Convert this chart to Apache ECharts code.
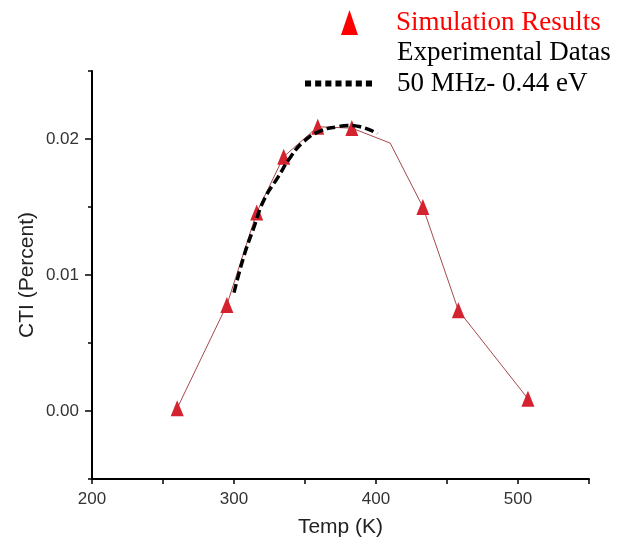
<!DOCTYPE html>
<html>
<head>
<meta charset="utf-8">
<script src="https://cdn.jsdelivr.net/npm/echarts@6/dist/echarts.min.js"></script>
<style>
html,body{margin:0;padding:0;background:#fff;}
#chart{width:617px;height:543px;}
</style>
</head>
<body>
<div id="chart"></div>
<script>
// Simulation results (red triangles, thin connecting line)
const simTemp = [260, 295, 316, 335, 359, 383, 410, 433, 458, 507];
const simCTI = [0.0002, 0.0078, 0.0146, 0.0187, 0.0209, 0.0208, 0.0197, 0.0150, 0.0074, 0.0009];
const simMarker = [true, true, true, true, true, true, false, true, true, true];
// Experimental / 50 MHz - 0.44 eV curve (dashed)
const expTemp = [300, 307, 314, 321, 331, 340, 349, 361, 373, 380, 389, 401];
const expCTI = [0.0087, 0.0114, 0.0135, 0.0155, 0.0172, 0.0187, 0.0198, 0.0206, 0.0209, 0.0210, 0.0209, 0.0204];
// Axis ticks
const xTickLabels = [200, 300, 400, 500];
const yTickLabels = [0.00, 0.01, 0.02];

const simData = simTemp.map((t, i) => simMarker[i] ? [t, simCTI[i]] : {value: [t, simCTI[i]], symbol: 'none'});
const expData = expTemp.map((t, i) => [t, expCTI[i]]);

const chart = echarts.init(document.getElementById('chart'), null, {renderer: 'canvas'});
const sans = 'Liberation Sans, Arial, sans-serif';
const serif = 'Liberation Serif, Times New Roman, serif';
const dashIcon = 'path://M0,0h6v6h-6zM10,0h6v6h-6zM20,0h6v6h-6zM30,0h6v6h-6zM40,0h6v6h-6zM50,0h6v6h-6zM60,0h6v6h-6z';

chart.setOption({
  animation: false,
  backgroundColor: '#fff',
  grid: {left: 92, right: 28, top: 71, bottom: 64, containLabel: false},
  legend: [
    {
      data: [{name: 'Simulation Results', icon: 'triangle', itemStyle: {color: '#ff0000'}}],
      left: 341, top: 9, padding: 0, itemWidth: 17, itemHeight: 25,
      selectedMode: false,
      textStyle: {color: '#ff0000', fontFamily: serif, fontSize: 27, padding: [0, 0, 0, 33]}
    },
    {
      data: [{name: 'Experimental Datas', icon: 'none'}],
      left: 392, top: 39, padding: 0, itemWidth: 0, itemHeight: 25,
      selectedMode: false,
      textStyle: {color: '#000', fontFamily: serif, fontSize: 27}
    },
    {
      data: [{name: '50 MHz- 0.44 eV', icon: dashIcon, itemStyle: {color: '#000', borderWidth: 0}}],
      left: 305, top: 70, padding: 0, itemWidth: 67, itemHeight: 25,
      selectedMode: false,
      textStyle: {color: '#000', fontFamily: serif, fontSize: 27, padding: [0, 0, 0, 20]}
    }
  ],
  xAxis: {
    type: 'value', min: 200, max: 550, interval: 50,
    name: 'Temp (K)', nameLocation: 'middle', nameGap: 38, nameMoveOverlap: false,
    nameTextStyle: {fontFamily: sans, fontSize: 21, color: '#222'},
    axisLine: {show: true, onZero: false, lineStyle: {color: '#000', width: 2}},
    axisTick: {show: true, length: 5, lineStyle: {color: '#000', width: 1.5}},
    axisLabel: {
      margin: 12, fontFamily: sans, fontSize: 17, color: '#333',
      formatter: v => xTickLabels.includes(v) ? String(v) : ''
    },
    splitLine: {show: false}
  },
  yAxis: [
    {
      type: 'value', min: -0.005, max: 0.025, interval: 0.005,
      name: 'CTI (Percent)', nameLocation: 'middle', nameGap: 54, nameRotate: 90, nameMoveOverlap: false,
      nameTextStyle: {fontFamily: sans, fontSize: 21, color: '#222'},
      axisLine: {show: true, onZero: false, lineStyle: {color: '#000', width: 2}},
      axisTick: {show: true, length: 4, lineStyle: {color: '#000', width: 1.5}},
      axisLabel: {
        margin: 13, fontFamily: sans, fontSize: 17, color: '#333',
        formatter: v => {
          const m = yTickLabels.find(t => Math.abs(t - v) < 1e-9);
          return m === undefined ? '' : m.toFixed(2);
        }
      },
      splitLine: {show: false}
    },
    {
      type: 'value', min: -0.005, max: 0.025, position: 'left',
      axisLine: {show: false},
      axisTick: {show: true, length: 7, customValues: yTickLabels, lineStyle: {color: '#000', width: 1.5}},
      axisLabel: {show: false},
      splitLine: {show: false}
    }
  ],
  series: [
    {
      name: 'Simulation Results', type: 'line', data: simData,
      symbol: 'triangle', symbolSize: [13, 16],
      itemStyle: {color: '#d4222e'},
      lineStyle: {color: '#a5494e', width: 1},
      z: 3
    },
    {
      name: 'Experimental Datas', type: 'line', data: [], symbol: 'none'
    },
    {
      name: '50 MHz- 0.44 eV', type: 'line', data: expData, smooth: true,
      symbol: 'none', itemStyle: {color: '#000'},
      lineStyle: {color: '#000', width: 3.5, type: [9, 4]},
      z: 4
    }
  ]
});
</script>
</body>
</html>
